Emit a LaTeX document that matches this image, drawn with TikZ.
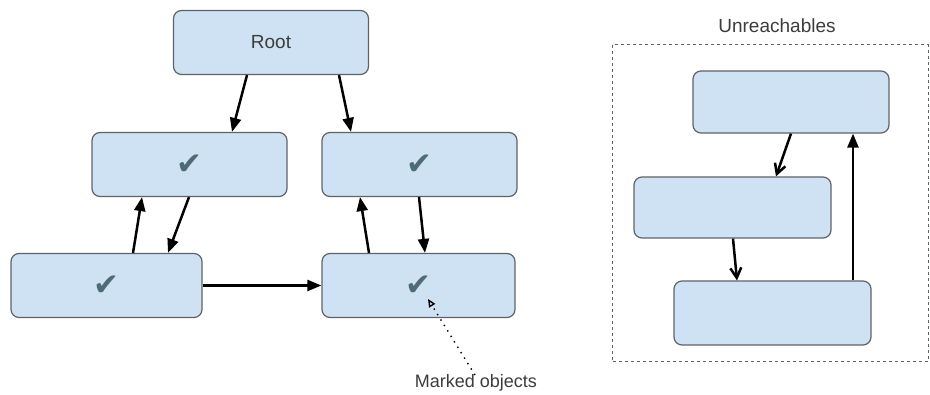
\documentclass[tikz,border=0pt]{standalone}
\usepackage{fontspec}
\setmainfont{Liberation Sans}
\newfontfamily\marcafont{DejaVu Sans}
\usepackage{tikz}
\usetikzlibrary{arrows.meta,positioning,calc}
\definecolor{gcBlueBg}{HTML}{CFE2F3}
\definecolor{gcBorder}{HTML}{5F6368}
\definecolor{gcCheck}{HTML}{4E6B77}
\definecolor{gcText}{HTML}{3C3C3C}
\tikzset{
  objeto/.style={draw=gcBorder, line width=1.2pt, rounded corners=8pt, fill=gcBlueBg, minimum width=195pt, minimum height=64pt, font=\fontsize{19}{21}\selectfont, text=gcText},
  arrflow/.style={-{Triangle[length=14pt,width=11pt]}, line width=2.5pt},
  arrbarb/.style={-{Straight Barb[length=10pt,width=11pt]}, line width=2.5pt},
  arrmark/.style={-{Triangle[open,length=8pt,width=7pt]}, line width=1.4pt, dash pattern=on 1.4pt off 5pt},
  contenedor/.style={draw=gcBorder, line width=1pt, dashed},
  etiqueta/.style={font=\fontsize{19}{21}\selectfont, text=gcText},
}
\newcommand{\marca}{{\marcafont\fontsize{31}{31}\selectfont\color{gcCheck}\char"2714}}

\begin{document}
\begin{tikzpicture}[x=1pt,y=-1pt]
\useasboundingbox (0,0) rectangle (930,395);
% alcanzables
\node[objeto] (root) at (271,42.5) {Root};
\node[objeto] (midL) at (189.5,164.5) {\marca};
\node[objeto] (midR) at (419.5,164.5) {\marca};
\node[objeto, minimum width=191pt] (botL) at (106.5,285.5) {\marca};
\node[objeto, minimum width=193pt] (botR) at (418.5,285.5) {\marca};
\draw[arrflow] ([xshift=-24pt]root.south) -- ([xshift=42.5pt]midL.north);
\draw[arrflow] ([xshift=68pt]root.south) -- ([xshift=-68.5pt]midR.north);
\draw[arrflow] ([xshift=-0.5pt]midL.south) -- ([xshift=61.5pt]botL.north);
\draw[arrflow] ([xshift=26.5pt]botL.north) -- ([xshift=-47.5pt]midL.south);
\draw[arrflow] ([xshift=-0.5pt]midR.south) -- ([xshift=6.5pt]botR.north);
\draw[arrflow] ([xshift=-49.5pt]botR.north) -- ([xshift=-59.5pt]midR.south);
\draw[arrflow] (botL) -- (botR);
% nota
\node[etiqueta, font=\fontsize{18}{20}\selectfont] (marked) at (476,383) {Marked objects};
\coordinate (markTip) at (428,299);
\draw[arrmark] ([xshift=-1pt,yshift=-4pt]marked.north) -- (markTip);
% inalcanzables
\draw[contenedor] (612,45) rectangle (928,362);
\node[etiqueta] (unreach) at (777,26) {Unreachables};
\node[objeto, minimum width=196pt, minimum height=62pt] (u1) at (791,102) {};
\node[objeto, minimum width=197pt, minimum height=61pt] (u2) at (732.5,207.5) {};
\node[objeto, minimum width=197pt] (u3) at (772.5,313) {};
\draw[arrbarb] ([xshift=0pt]u1.south) -- ([xshift=43.5pt]u2.north);
\draw[arrbarb] ([xshift=0.5pt]u2.south) -- ([xshift=-35.5pt]u3.north);
\draw[arrflow] ([xshift=80.5pt]u3.north) -- ([xshift=62pt]u1.south);
\end{tikzpicture}
\end{document}
